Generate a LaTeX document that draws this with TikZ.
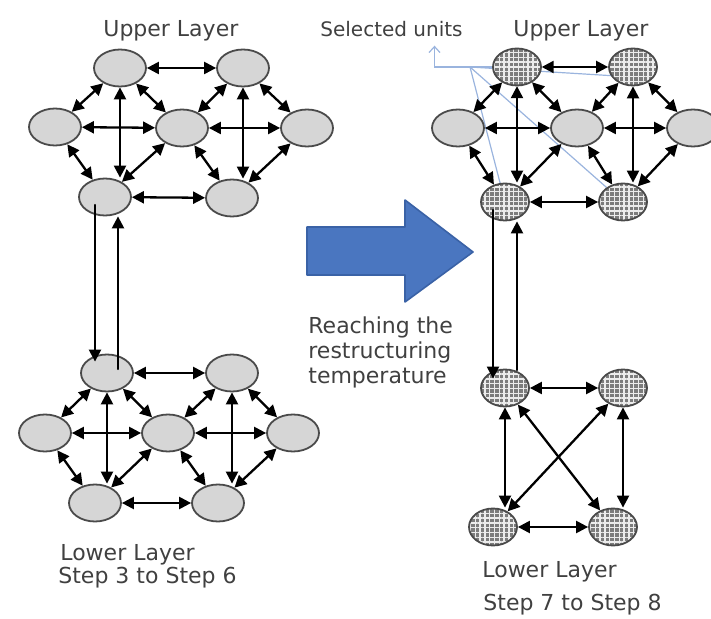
\documentclass[tikz,border=0pt]{standalone}
\usepackage{fontspec}
\setmainfont{DejaVu Sans}
\usetikzlibrary{shapes.geometric,arrows.meta,patterns.meta,backgrounds}
\definecolor{unitgray}{HTML}{D6D6D6}
\definecolor{rimgray}{HTML}{4A4A4A}
\definecolor{hatchgray}{HTML}{7C7C7C}
\definecolor{textgray}{HTML}{404040}
\definecolor{bigblue}{HTML}{4A76C0}
\definecolor{bigrim}{HTML}{3A62A6}
\definecolor{calloutblue}{HTML}{9AB4DE}
\begin{document}
\begin{tikzpicture}[x=0.5pt,y=-0.5pt,line cap=round,line join=round,
	unit/.style={ellipse,draw=rimgray,line width=0.9pt,fill=unitgray,minimum width=26pt,minimum height=18.5pt,inner sep=0pt},
	chosen/.style={unit,minimum width=24pt,preaction={fill=hatchgray},pattern={Hatch[angle=0,distance=2.4pt,line width=0.7pt]},pattern color=white!85!gray},
	link/.style={{Triangle[length=6pt,width=6pt]}-{Triangle[length=6pt,width=6pt]},line width=1.15pt},
	oneway/.style={-{Triangle[length=6pt,width=6pt]},line width=1.15pt},
	label/.style={anchor=base west,inner sep=0pt,text=textgray,font=\fontsize{11}{12.5}\selectfont},
	callout/.style={calloutblue,line width=0.6pt}]
	\useasboundingbox (0,0) rectangle (711,619);
	\node[label] (upA) at (103,37) {Upper Layer};
	\node[label] (upC) at (513,37) {Upper Layer};
	\node[label,font=\fontsize{10}{12}\selectfont] (sel) at (320,37) {Selected units};
	\node[label] (lowB) at (60,560) {Lower Layer};
	\node[label] (stepB) at (58,583) {Step 3 to Step 6};
	\node[label] (lowD) at (482,577) {Lower Layer};
	\node[label] (stepD) at (483,610) {Step 7 to Step 8};
	\node[label,align=left,anchor=north west] (reach) at (308,316) {Reaching the\\restructuring\\temperature};
	% upper layer, steps 3 to 6
	\node[unit] (a00) at (120,68) {};
	\node[unit] (a01) at (243,68) {};
	\node[unit] (a10) at (55,127) {};
	\node[unit] (a11) at (182,128) {};
	\node[unit] (a12) at (307,128) {};
	\node[unit] (a20) at (105,197) {};
	\node[unit] (a21) at (232,198) {};
	% lower layer, steps 3 to 6
	\node[unit] (b00) at (107,373) {};
	\node[unit] (b01) at (232,373) {};
	\node[unit] (b10) at (45,433) {};
	\node[unit] (b11) at (168,433) {};
	\node[unit] (b12) at (293,433) {};
	\node[unit] (b20) at (95,503) {};
	\node[unit] (b21) at (218,503) {};
	% upper layer, steps 7 to 8
	\node[chosen] (c00) at (517,67) {};
	\node[chosen] (c01) at (633,67) {};
	\node[unit] (c10) at (458,128) {};
	\node[unit] (c11) at (577,128) {};
	\node[unit] (c12) at (693,128) {};
	\node[chosen] (c20) at (505,202) {};
	\node[chosen] (c21) at (623,202) {};
	% lower layer, steps 7 to 8
	\node[chosen] (d00) at (505,388) {};
	\node[chosen] (d01) at (623,388) {};
	\node[chosen] (d10) at (493,527) {};
	\node[chosen] (d11) at (613,527) {};
	\coordinate (hub) at (470,67);
	\begin{scope}[on background layer]
		\draw[callout,-{Straight Barb[length=3pt,width=5.5pt]}] (hub) -| ([xshift=21.5pt,yshift=-4pt]sel.south);
		\draw[callout] (hub) -- (c00);
		\draw[callout] (hub) -- ([yshift=-5pt]c01.center);
		\draw[callout] (hub) -- (c20);
		\draw[callout] (hub) -- (c21);
	\end{scope}
	\foreach \ly in {a,b,c}{
		\draw[link] (\ly00) -- (\ly01);
		\draw[link] (\ly00) -- (\ly10);
		\draw[link] (\ly00) -- (\ly11);
		\draw[link] (\ly00) -- (\ly00 |- \ly20.north);
		\draw[link] (\ly10) -- (\ly11);
		\draw[link] (\ly10) -- (\ly20);
		\draw[link] (\ly11) -- (\ly20);
		\draw[link] (\ly11) -- (\ly12);
		\draw[link] (\ly01) -- (\ly11);
		\draw[link] (\ly01) -- (\ly12);
		\draw[link] (\ly01) -- (\ly01 |- \ly21.north);
		\draw[link] (\ly11) -- (\ly21);
		\draw[link] (\ly12) -- (\ly21);
		\draw[link] (\ly20) -- (\ly21);
	}
	\draw[link] (d00) -- (d01);
	\draw[link] (d00) -- (d00 |- d10.north);
	\draw[link] (d01) -- (d01 |- d11.north);
	\draw[link] (d10) -- (d11);
	\draw[link] (d00) -- (d11);
	\draw[link] (d01) -- (d10);
	% between the layers
	\draw[oneway] ([xshift=-5pt,yshift=-4pt]a20.center) -- ([xshift=-5pt,yshift=-4pt]a20.center |- b00.north);
	\draw[oneway] ([xshift=5.5pt,yshift=2pt]b00.center) -- ([xshift=5.5pt]b00.center |- a20.south);
	\draw[oneway] ([xshift=-6pt,yshift=-4pt]c20.center) -- ([xshift=-6pt,yshift=-5pt]c20.center |- d00.north);
	\draw[oneway] ([xshift=6pt,yshift=9pt]d00.center) -- ([xshift=6pt]d00.center |- c20.south);
	\draw[fill=bigblue,draw=bigrim,line width=0.8pt] (307,227) -- (405,227) -- (405,200) -- (473,252) -- (405,302) -- (405,275) -- (307,275) -- cycle;
\end{tikzpicture}
\end{document}
